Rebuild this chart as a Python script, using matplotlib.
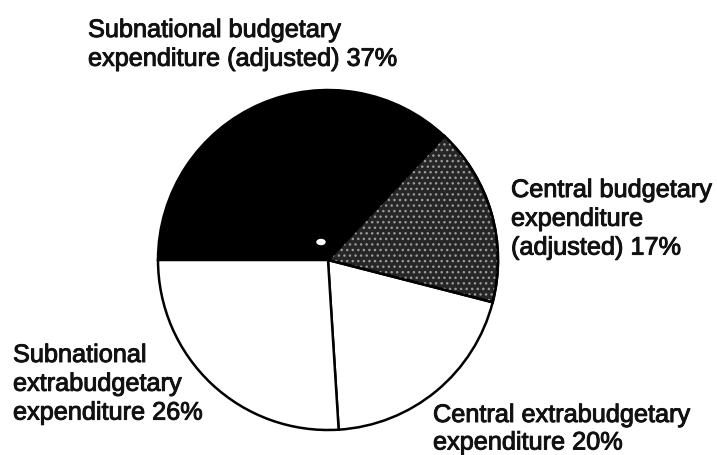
import matplotlib
matplotlib.use("Agg")
import matplotlib.pyplot as plt
from matplotlib.patches import Wedge, Ellipse
import matplotlib.patheffects as pe

labels = ["Subnational budgetary\nexpenditure (adjusted) 37%",
          "Central budgetary\nexpenditure\n(adjusted) 17%",
          "Central extrabudgetary\nexpenditure 20%",
          "Subnational\nextrabudgetary\nexpenditure 26%"]
values = [37, 17, 20, 26]
colors = ["black", "#262626", "white", "white"]

W, H = 717, 456
fig = plt.figure(figsize=(W / 100, H / 100), dpi=100)
ax = fig.add_axes([0, 0, 1, 1])

cx, cy, r = 328, H - 261, 170
wedges, _ = ax.pie(values, colors=colors, startangle=180, counterclock=False,
                   center=(cx, cy), radius=r, frame=True,
                   wedgeprops=dict(edgecolor="black", linewidth=1.8))
ax.set_xlim(0, W)
ax.set_ylim(0, H)
ax.set_aspect("equal")
ax.axis("off")

# stipple texture on the central budgetary slice
w = wedges[1]
plt.rcParams["hatch.linewidth"] = 1.0
tex = Wedge(w.center, w.r, w.theta1, w.theta2, facecolor="none",
            edgecolor="#9a9a9a", hatch="...", linewidth=0)
ax.add_patch(tex)
outline = Wedge(w.center, w.r, w.theta1, w.theta2, facecolor="none",
                edgecolor="black", linewidth=1.8)
ax.add_patch(outline)

ax.add_patch(Ellipse((321, H - 243), 8, 5, color="white", zorder=5))

font = dict(family=["Liberation Sans", "DejaVu Sans"], fontsize=18.2,
            color="#111111",
            path_effects=[pe.withStroke(linewidth=0.7, foreground="#111111")])

# label anchor (x, first baseline, line step) in pixels
anchors = [(88, 38, 28.8), (511, 198, 28.8), (433, 423, 27.5), (13, 363, 28.8)]
for lab, (x, y0, step) in zip(labels, anchors):
    for i, line in enumerate(lab.split("\n")):
        ax.text(x, H - (y0 + i * step), line, ha="left", va="baseline", **font)

fig.savefig("out.png", dpi=100)
